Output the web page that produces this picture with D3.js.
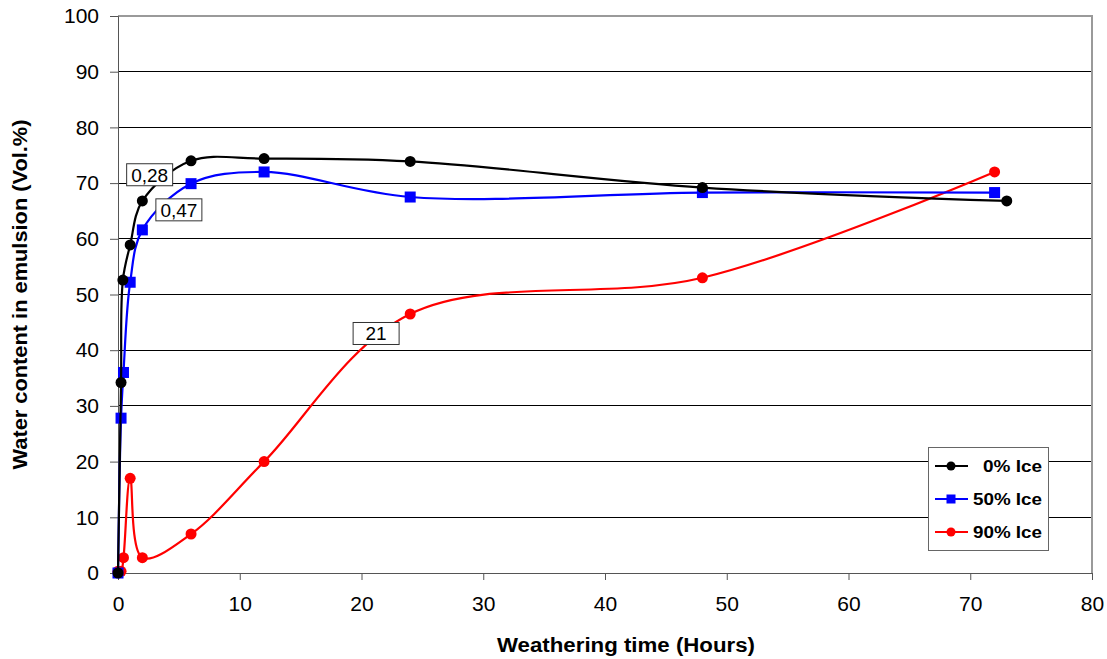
<!DOCTYPE html>
<html>
<head>
<meta charset="utf-8">
<script src="https://cdn.jsdelivr.net/npm/d3@7"></script>
<style>
  body { margin: 0; background: #fff; }
  svg { font-family: "Liberation Sans", Arial, sans-serif; }
</style>
</head>
<body>
<div id="chart"></div>
<script>
// series data (hours, vol.%)
var series_names = ["0% Ice", "50% Ice", "90% Ice"];
var series_colors = ["#000000", "#0000ff", "#ff0000"];
var series_shapes = ["circle", "square", "circle"];

var ice0_x = [0, 0.25, 0.4, 1, 2, 6, 12, 24, 48, 73];
var ice0_y = [0, 34.2, 52.6, 58.9, 66.8, 74, 74.4, 73.9, 69.2, 66.8];

var ice50_x = [0, 0.25, 0.45, 1, 2, 6, 12, 24, 48, 72];
var ice50_y = [0, 27.8, 36, 52.2, 61.6, 69.9, 72, 67.5, 68.3, 68.3];

var ice90_x = [0, 0.25, 0.45, 1, 2, 6, 12, 24, 48, 72];
var ice90_y = [0.3, 0.3, 2.75, 17, 2.75, 7, 20, 46.5, 53, 72];

// boxed labels on the plot
var label_texts = ["0,28", "0,47", "21"];
var label_x = [2.6, 5, 21.2];
var label_y = [71.5, 65.2, 43];

var x_ticks = [0, 10, 20, 30, 40, 50, 60, 70, 80];
var y_ticks = [0, 10, 20, 30, 40, 50, 60, 70, 80, 90, 100];

function draw_chart()
{
  var width = 1107, height = 659;
  var margin = {top: 16, right: 15, bottom: 86, left: 118};
  var w = width - margin.left - margin.right,
      h = height - margin.top - margin.bottom;

  var svg = d3.select("#chart").append("svg")
      .attr("width", width)
      .attr("height", height);

  var g = svg.append("g")
      .attr("transform", "translate(" + margin.left + "," + margin.top + ")");

  var x = d3.scaleLinear().domain([0, 80]).range([0, w]);
  var y = d3.scaleLinear().domain([0, 100]).range([h, 0]);

  // horizontal grid
  g.selectAll(".grid")
      .data(y_ticks.slice(1, -1))
    .enter().append("line")
      .attr("class", "grid")
      .attr("x1", 0)
      .attr("x2", w)
      .attr("y1", function(d) { return y(d); })
      .attr("y2", function(d) { return y(d); })
      .attr("stroke", "#000")
      .attr("shape-rendering", "crispEdges");

  // plot border top / right
  g.append("path")
      .attr("d", "M0," + y(100) + "H" + w + "V" + h)
      .attr("fill", "none")
      .attr("stroke", "#9a9a9a")
      .attr("stroke-width", 1.5)
      .attr("shape-rendering", "crispEdges");

  var xAxis = g.append("g")
      .attr("transform", "translate(0," + h + ")")
      .call(d3.axisBottom(x).tickValues(x_ticks).tickSize(7).tickPadding(16));
  var yAxis = g.append("g")
      .call(d3.axisLeft(y).tickValues(y_ticks).tickSize(8).tickPadding(11));

  [xAxis, yAxis].forEach(function(a) {
    a.select(".domain").attr("stroke", "#555");
    a.selectAll(".tick line").attr("stroke", "#555");
    a.selectAll("text")
      .attr("font-family", "Liberation Sans, Arial, sans-serif")
      .attr("font-size", "21px")
      .attr("fill", "#000");
  });

  // axis titles
  svg.append("text")
      .attr("x", 626)
      .attr("y", 652)
      .attr("text-anchor", "middle")
      .attr("font-weight", "bold")
      .attr("font-size", "20px")
      .attr("textLength", 258)
      .attr("lengthAdjust", "spacingAndGlyphs")
      .text("Weathering time (Hours)");

  svg.append("text")
      .attr("transform", "translate(27," + (margin.top + h / 2) + ")rotate(-90)")
      .attr("text-anchor", "middle")
      .attr("font-weight", "bold")
      .attr("font-size", "20px")
      .attr("textLength", 350)
      .attr("lengthAdjust", "spacingAndGlyphs")
      .text("Water content in emulsion (Vol.%)");

  var all_x = [ice0_x, ice50_x, ice90_x];
  var all_y = [ice0_y, ice50_y, ice90_y];

  var line = d3.line()
      .x(function(d) { return x(d[0]); })
      .y(function(d) { return y(d[1]); })
      .curve(d3.curveCatmullRom.alpha(0.5));

  // draw in reverse so black ends up on top
  for (var s = 2; s >= 0; s--) {
    var pts = all_x[s].map(function(v, i) { return [v, all_y[s][i]]; });
    var sg = g.append("g").attr("class", "series");
    sg.append("path")
        .datum(pts)
        .attr("d", line)
        .attr("fill", "none")
        .attr("stroke", series_colors[s])
        .attr("stroke-width", 2.2);
    draw_markers(sg, pts, series_shapes[s], series_colors[s]);
  }

  function draw_markers(sel, pts, shape, color) {
    if (shape == "circle") {
      sel.selectAll(".pt")
          .data(pts)
        .enter().append("circle")
          .attr("class", "pt")
          .attr("cx", function(d) { return x(d[0]); })
          .attr("cy", function(d) { return y(d[1]); })
          .attr("r", 5.5)
          .attr("fill", color);
    }
    else {
      sel.selectAll(".pt")
          .data(pts)
        .enter().append("rect")
          .attr("class", "pt")
          .attr("x", function(d) { return x(d[0]) - 5.5; })
          .attr("y", function(d) { return y(d[1]) - 5.5; })
          .attr("width", 11)
          .attr("height", 11)
          .attr("fill", color);
    }
  }

  // boxed data labels
  label_texts.forEach(function(t, i) {
    var lg = g.append("g")
        .attr("transform", "translate(" + x(label_x[i]) + "," + y(label_y[i]) + ")");
    lg.append("rect")
        .attr("x", -23)
        .attr("y", -11)
        .attr("width", 46)
        .attr("height", 22)
        .attr("fill", "#fff")
        .attr("stroke", "#333")
        .attr("stroke-width", 1);
    lg.append("text")
        .attr("text-anchor", "middle")
        .attr("dy", "0.36em")
        .attr("font-size", "19px")
        .text(t);
  });

  // legend
  var leg = svg.append("g").attr("transform", "translate(928,447)");
  leg.append("rect")
      .attr("width", 120)
      .attr("height", 103)
      .attr("fill", "#fff")
      .attr("stroke", "#666")
      .attr("shape-rendering", "crispEdges");

  var leg_widths = [59, 69, 69];
  series_names.forEach(function(name, i) {
    var row = leg.append("g").attr("transform", "translate(0," + (19 + i * 33) + ")");
    row.append("line")
        .attr("x1", 7)
        .attr("x2", 40)
        .attr("stroke", series_colors[i])
        .attr("stroke-width", 2);
    if (series_shapes[i] == "circle") {
      row.append("circle").attr("cx", 23).attr("r", 4.5).attr("fill", series_colors[i]);
    }
    else {
      row.append("rect").attr("x", 18.5).attr("y", -4.5).attr("width", 9).attr("height", 9).attr("fill", series_colors[i]);
    }
    row.append("text")
        .attr("x", 114)
        .attr("dy", "0.36em")
        .attr("text-anchor", "end")
        .attr("font-weight", "bold")
        .attr("font-size", "16.5px")
        .attr("textLength", leg_widths[i])
        .attr("lengthAdjust", "spacingAndGlyphs")
        .text(name);
  });
}
draw_chart();
</script>
</body>
</html>
